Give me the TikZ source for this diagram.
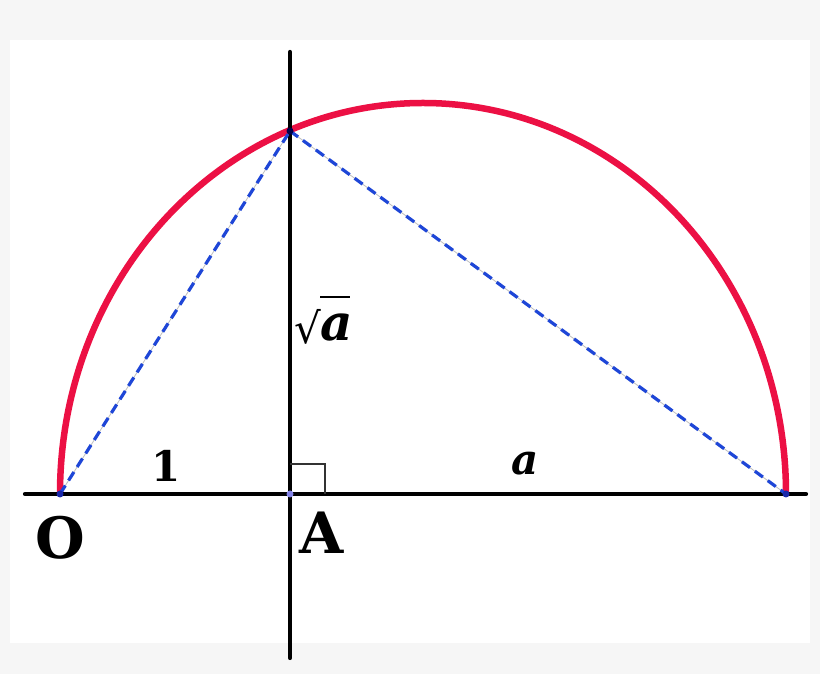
\documentclass[tikz,border=0pt]{standalone}
\usepackage{fontspec}
\setmainfont{DejaVu Serif}
\definecolor{bgray}{RGB}{246,246,246}
\definecolor{arcred}{RGB}{236,16,68}
\definecolor{dashblue}{RGB}{30,70,215}
\definecolor{dotblue}{RGB}{25,40,170}
\definecolor{dotlav}{RGB}{130,130,230}
\tikzset{
  axis/.style={line width=4.2pt, line cap=round, black},
  semi/.style={line width=6.5pt, arcred},
  chord/.style={line width=3.2pt, dashblue, dash pattern=on 10pt off 6pt},
  guide/.style={line width=0.8pt, black!25},
  ptdot/.style={circle, fill=dotblue, inner sep=0pt, minimum size=7pt},
  lbl/.style={inner sep=0pt, font=\bfseries\fontsize{57}{62}\selectfont},
  smalllbl/.style={inner sep=0pt, font=\bfseries\fontsize{42}{48}\selectfont},
}
\begin{document}
\begin{tikzpicture}[x=1pt,y=1pt]
\useasboundingbox (0,0) rectangle (820,674);
\fill[bgray] (0,0) rectangle (820,674);
\fill[white] (10,31) rectangle (810,634);
% key points
\coordinate (O) at (60,180);
\coordinate (A) at (290,180);
\coordinate (B) at (786,180);
\coordinate (P) at (290,543);
\coordinate (L) at (25,180);
\coordinate (R) at (806,180);
\coordinate (T) at (290,622);
\coordinate (D) at (290,16);
% semicircle
\draw[semi] (B) arc[start angle=0, end angle=180, x radius=363, y radius=391];
% axes
\draw[axis] (L) -- (R);
\draw[axis] (T) -- (D);
% right angle mark
\coordinate (m1) at (290,210);
\coordinate (m2) at (325,210);
\coordinate (m3) at (325,180);
\draw[line width=1.4pt, black!80] (m1) -- (m2) -- (m3);
% chords
\draw[guide] (O) -- (P) -- (B);
\draw[chord] (O) -- (P);
\draw[chord] (P) -- (B);
% dots
\node[ptdot] (dO) at (O) {};
\node[ptdot, fill=dotlav] (dA) at (A) {};
\node[ptdot] (dB) at (B) {};
\node[ptdot, fill=black!70!blue] (dP) at (P) {};
% labels
\node[lbl] (lO) at (60,136) {O};
\node[lbl] (lA) at (322,141) {A};
\node[smalllbl] (l1) at (166,208) {1};
\node[smalllbl] (la) at (525,210) {\itshape a};
\node[inner sep=0pt, font=\fontsize{42}{50}\selectfont, anchor=east] (sq) at (321,347) {√};
\node[inner sep=0pt, font=\bfseries\itshape\fontsize{50}{56}\selectfont, anchor=west] (sa) at (320,346) {a};
\coordinate (ov1) at (320,377);
\coordinate (ov2) at (350,377);
\draw[line width=2.6pt] (ov1) -- (ov2);
\end{tikzpicture}
\end{document}
